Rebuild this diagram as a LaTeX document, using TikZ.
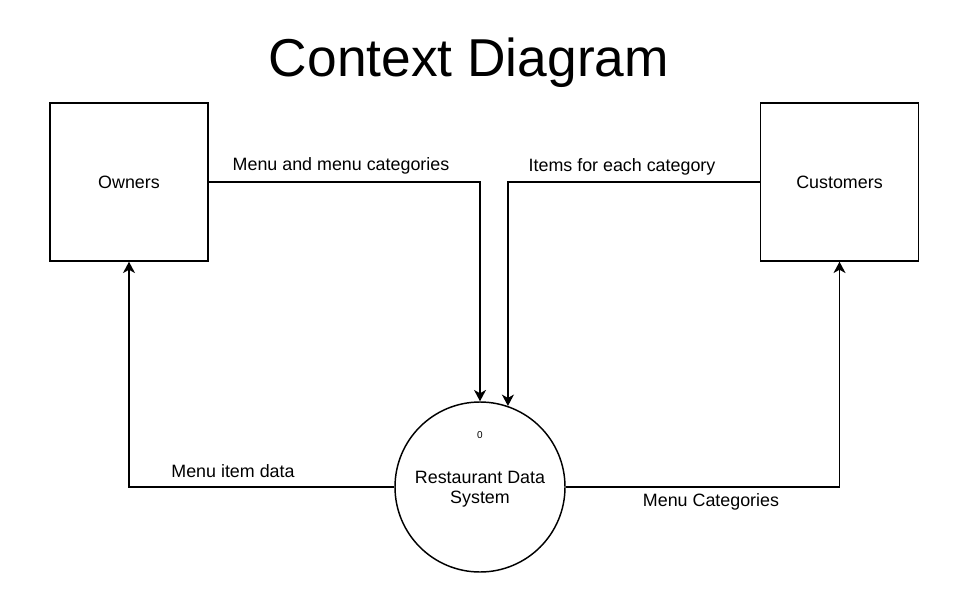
\documentclass[tikz,border=0pt]{standalone}
\usepackage{fontspec}
\setmainfont{Liberation Sans}
\usetikzlibrary{arrows.meta,calc}
\begin{document}
\begin{tikzpicture}[x=0.75pt,y=-0.75pt,
  ent/.style={draw,line width=1.1pt,minimum width=118.5pt,minimum height=118.5pt,inner sep=0pt,font=\fontsize{13.4}{16}\selectfont},
  proc/.style={draw,circle,line width=1.1pt,minimum size=127.5pt,inner sep=0pt},
  flow/.style={line width=1.1pt,-{Stealth[length=8.5pt,width=9pt,inset=2.5pt]}},
  lbl/.style={inner sep=0pt,font=\fontsize{13.4}{16}\selectfont}]
\useasboundingbox (0,0) rectangle (980,598);
\node[inner sep=0pt,font=\fontsize{40}{48}\selectfont] (title) at (469,63) {Context Diagram};
\node[ent] (owners) at (129,182) {Owners};
\node[ent] (cust) at (839.5,182) {Customers};
\node[proc] (sys) at (480,487) {};
\node[lbl,align=center,font=\fontsize{13.4}{15}\selectfont] (sysname) at (480,489) {Restaurant Data\\System};
\node[inner sep=0pt,font=\fontsize{7.5}{9}\selectfont] (num) at (480,435) {0};
\draw[flow] (owners.east) -| (sys.north);
\draw[flow] (cust.west) -| (sys.71.5);
\draw[flow] (sys.west) -| (owners.south);
\draw[flow] (sys.east) -| (cust.south);
\node[lbl] (l1) at (341,166) {Menu and menu categories};
\node[lbl] (l2) at (622,167) {Items for each category};
\node[lbl] (l3) at (233,471) {Menu item data};
\node[lbl] (l4) at (711,502) {Menu Categories};
\end{tikzpicture}
\end{document}
